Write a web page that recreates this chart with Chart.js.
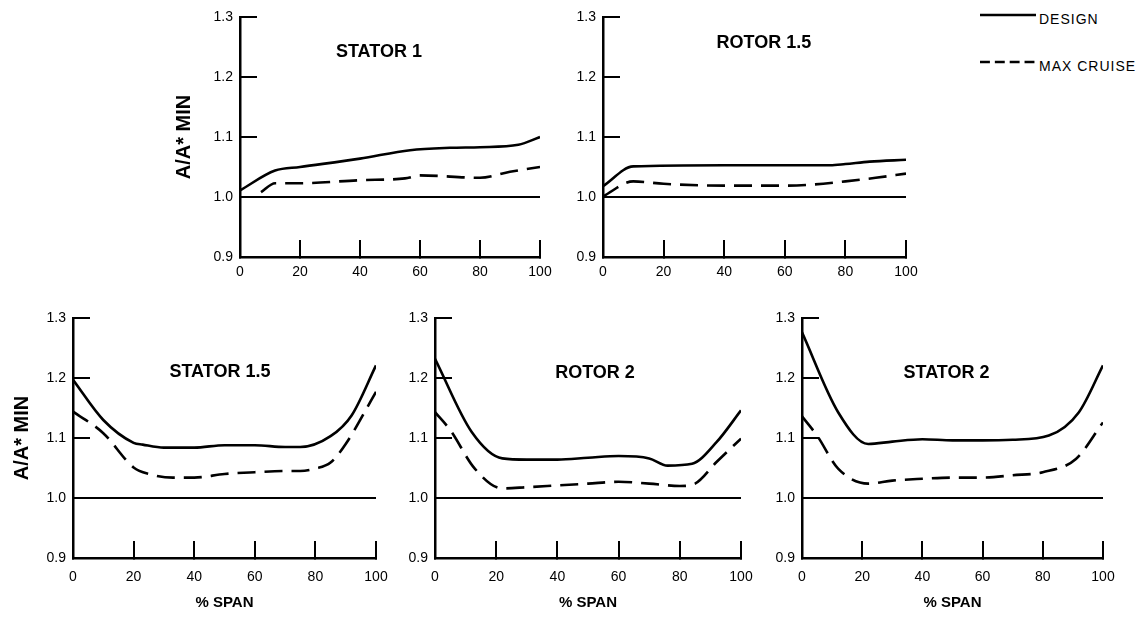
<!DOCTYPE html>
<html>
<head>
<meta charset="utf-8">
<script src="https://cdn.jsdelivr.net/npm/chart.js@4.4.1/dist/chart.umd.min.js"></script>
<style>
html, body { margin: 0; padding: 0; background: #fff; }
#wrap { position: relative; width: 1141px; height: 620px; overflow: hidden; background: #fff; }
#wrap canvas { position: absolute; }
.leg { position: absolute; display: flex; align-items: center; height: 20px;
       font: 14px "Liberation Sans", Arial, Helvetica, sans-serif; letter-spacing: 1px;
       color: #000; white-space: nowrap; }
.leg svg { display: block; margin-right: 3px; }
</style>
</head>
<body>
<div id="wrap">
  <canvas id="cStator1"></canvas>
  <canvas id="cRotor15"></canvas>
  <canvas id="cStator15"></canvas>
  <canvas id="cRotor2"></canvas>
  <canvas id="cStator2"></canvas>
</div>
<script>
// ---------------- DATA ----------------
const seriesNames = ['DESIGN', 'MAX CRUISE'];
const panelTitles = ['STATOR 1', 'ROTOR 1.5', 'STATOR 1.5', 'ROTOR 2', 'STATOR 2'];
const xTickValues = [0, 20, 40, 60, 80, 100];
const yTickValues = [0.9, 1.0, 1.1, 1.2, 1.3];
const referenceSpan = [0, 100];
const referenceRatio = [1.0, 1.0];

// STATOR 1
const stator1DesignSpan = [0, 11.7, 20, 40, 56.7, 70, 80, 92.8, 100];
const stator1Design     = [1.011, 1.044, 1.050, 1.064, 1.078, 1.082, 1.083, 1.087, 1.100];
const stator1CruiseSpan = [7, 11.7, 20, 40, 55, 60, 80, 90, 100];
const stator1Cruise     = [1.008, 1.023, 1.023, 1.028, 1.031, 1.036, 1.032, 1.042, 1.050];

// ROTOR 1.5
const rotor15DesignSpan = [0, 10, 40, 75, 80, 88, 100];
const rotor15Design     = [1.018, 1.051, 1.053, 1.053, 1.055, 1.059, 1.062];
const rotor15CruiseSpan = [0, 10, 20, 40, 60, 70, 80, 90, 100];
const rotor15Cruise     = [1.001, 1.026, 1.022, 1.019, 1.019, 1.021, 1.026, 1.032, 1.039];

// STATOR 1.5
const stator15DesignSpan = [0, 10, 20, 23, 30, 40, 50, 60, 70, 75, 85, 92, 100];
const stator15Design     = [1.197, 1.130, 1.092, 1.089, 1.084, 1.084, 1.088, 1.088, 1.085, 1.085, 1.103, 1.138, 1.221];
const stator15CruiseSpan = [0, 10, 20, 25, 33, 40, 50, 60, 70, 75, 80, 85, 90, 100];
const stator15Cruise     = [1.144, 1.108, 1.051, 1.040, 1.034, 1.034, 1.040, 1.043, 1.045, 1.045, 1.049, 1.059, 1.090, 1.177];

// ROTOR 2
const rotor2DesignSpan = [0, 12, 22, 30, 40, 50, 60, 70, 76, 84, 92, 100];
const rotor2Design     = [1.232, 1.110, 1.066, 1.064, 1.064, 1.067, 1.070, 1.066, 1.054, 1.057, 1.093, 1.146];
const rotor2CruiseSpan = [0, 5, 13, 22, 30, 40, 50, 60, 70, 80, 85, 92, 100];
const rotor2Cruise     = [1.143, 1.113, 1.049, 1.016, 1.018, 1.021, 1.024, 1.027, 1.024, 1.020, 1.024, 1.060, 1.099];

// STATOR 2
const stator2DesignSpan = [0, 12, 22, 30, 40, 50, 60, 70, 82, 92, 100];
const stator2Design     = [1.276, 1.143, 1.090, 1.094, 1.098, 1.096, 1.096, 1.097, 1.104, 1.143, 1.221];
const stator2CruiseSpan = [0, 5, 12, 22, 30, 40, 50, 60, 70, 80, 91, 100];
const stator2Cruise     = [1.136, 1.104, 1.049, 1.024, 1.029, 1.032, 1.034, 1.034, 1.038, 1.043, 1.065, 1.126];

// ---------------- STYLE / LAYOUT ----------------
const FONT = '"Liberation Sans", Arial, Helvetica, sans-serif';
Chart.defaults.font.family = FONT;
Chart.defaults.color = '#000';

const panelTitlePlugin = {
  id: 'panelTitle',
  afterDatasetsDraw(chart, args, opts) {
    if (!opts || !opts.text) return;
    const { ctx, chartArea: a, scales } = chart;
    ctx.save();
    ctx.font = 'bold 18px ' + FONT;
    ctx.fillStyle = '#000';
    ctx.textAlign = 'center';
    ctx.textBaseline = 'middle';
    ctx.fillText(opts.text, a.left + opts.xFrac * (a.right - a.left), scales.y.getPixelForValue(opts.yValue));
    ctx.restore();
  }
};

function lineSet(label, xs, ys, dash, width, inLegend) {
  return {
    label: label,
    data: xs.map((x, i) => ({ x: x, y: ys[i] })),
    borderColor: '#000',
    backgroundColor: '#000',
    borderWidth: width,
    borderDash: dash,
    pointRadius: 0,
    fill: false,
    cubicInterpolationMode: 'monotone',
    showInLegend: inLegend
  };
}

// plot-area target: L,T,R,B (pixels in the page)
function makePanel(cfg) {
  const PAD_TOP = 34, PAD_RIGHT = 42;
  const left = cfg.canvasLeft;
  const top = cfg.T - PAD_TOP;
  const w = cfg.R + PAD_RIGHT - left;
  const h = cfg.B + cfg.xH - top;
  const canvas = document.getElementById(cfg.id);
  canvas.width = w; canvas.height = h;
  canvas.style.left = left + 'px'; canvas.style.top = top + 'px';
  canvas.style.width = w + 'px'; canvas.style.height = h + 'px';
  const gridCommon = { drawOnChartArea: false, drawTicks: true, tickLength: -17, color: '#000', lineWidth: 2 };
  const borderCommon = { display: true, color: '#000', width: 2.5 };
  return new Chart(canvas, {
    type: 'line',
    data: {
      datasets: [
        lineSet(seriesNames[0], cfg.dx, cfg.dy, [], 2.6, true),
        lineSet(seriesNames[1], cfg.cx, cfg.cy, [18, 9], 2.6, true),
        lineSet('A/A* = 1.0', referenceSpan, referenceRatio, [], 2.2, false)
      ]
    },
    options: {
      responsive: false,
      maintainAspectRatio: false,
      animation: false,
      devicePixelRatio: 1,
      layout: { padding: { left: 0, top: PAD_TOP, right: PAD_RIGHT, bottom: 0 } },
      plugins: {
        legend: { display: false },
        tooltip: { enabled: false },
        panelTitle: { text: cfg.title, xFrac: cfg.tx, yValue: cfg.ty }
      },
      scales: {
        x: {
          type: 'linear', min: xTickValues[0], max: xTickValues[xTickValues.length - 1],
          afterBuildTicks: s => { s.ticks = xTickValues.map(v => ({ value: v })); },
          ticks: { padding: cfg.xTickPad, font: { size: 14 }, color: '#000', maxRotation: 0, autoSkip: false },
          grid: gridCommon,
          border: borderCommon,
          title: { display: cfg.xTitle, text: '% SPAN', color: '#000',
                   font: { size: 15, weight: 'bold' }, padding: { top: 0, bottom: 6 } },
          afterFit: s => { s.height = cfg.xH; }
        },
        y: {
          type: 'linear', min: yTickValues[0], max: yTickValues[yTickValues.length - 1],
          afterBuildTicks: s => { s.ticks = yTickValues.map(v => ({ value: v })); },
          ticks: { padding: 24, font: { size: 14 }, color: '#000', callback: v => Number(v).toFixed(1) },
          grid: gridCommon,
          border: borderCommon,
          title: { display: cfg.yTitle, text: 'A/A* MIN', color: '#000',
                   font: { size: 20, weight: 'bold' }, padding: 0 },
          afterFit: s => { s.width = cfg.L - left; }
        }
      }
    },
    plugins: [panelTitlePlugin]
  });
}

const chartStator1 = makePanel({ id: 'cStator1', canvasLeft: 172, L: 240, T: 17, R: 540, B: 257, xH: 36,
  xTickPad: 24, xTitle: false, yTitle: true, title: panelTitles[0], tx: 0.463, ty: 1.242,
  dx: stator1DesignSpan, dy: stator1Design, cx: stator1CruiseSpan, cy: stator1Cruise });

const chartRotor15 = makePanel({ id: 'cRotor15', canvasLeft: 558, L: 603, T: 17, R: 906, B: 257, xH: 36,
  xTickPad: 24, xTitle: false, yTitle: false, title: panelTitles[1], tx: 0.531, ty: 1.257,
  dx: rotor15DesignSpan, dy: rotor15Design, cx: rotor15CruiseSpan, cy: rotor15Cruise });

const chartStator15 = makePanel({ id: 'cStator15', canvasLeft: 10, L: 73, T: 318, R: 376, B: 558, xH: 60,
  xTickPad: 28, xTitle: true, yTitle: true, title: panelTitles[2], tx: 0.485, ty: 1.2105,
  dx: stator15DesignSpan, dy: stator15Design, cx: stator15CruiseSpan, cy: stator15Cruise });

const chartRotor2 = makePanel({ id: 'cRotor2', canvasLeft: 390, L: 435, T: 318, R: 741, B: 558, xH: 60,
  xTickPad: 28, xTitle: true, yTitle: false, title: panelTitles[3], tx: 0.523, ty: 1.209,
  dx: rotor2DesignSpan, dy: rotor2Design, cx: rotor2CruiseSpan, cy: rotor2Cruise });

const chartStator2 = makePanel({ id: 'cStator2', canvasLeft: 757, L: 802, T: 318, R: 1103, B: 558, xH: 60,
  xTickPad: 28, xTitle: true, yTitle: false, title: panelTitles[4], tx: 0.48, ty: 1.209,
  dx: stator2DesignSpan, dy: stator2Design, cx: stator2CruiseSpan, cy: stator2Cruise });

// ---------------- HTML legend built from the chart's own legend items ----------------
(function buildLegend() {
  const wrap = document.getElementById('wrap');
  const items = Chart.defaults.plugins.legend.labels.generateLabels(chartRotor15)
    .filter(it => chartRotor15.data.datasets[it.datasetIndex].showInLegend);
  const lineYs = [15, 62];
  items.forEach((it, i) => {
    const row = document.createElement('div');
    row.className = 'leg';
    row.style.left = '980px';
    row.style.top = (lineYs[i] - 7) + 'px';
    const dash = (it.lineDash || []).map(v => v * 0.55).join(' ');
    row.innerHTML = '<svg width="56" height="20"><line x1="0" y1="7" x2="56" y2="7" stroke="' + it.strokeStyle +
      '" stroke-width="' + it.lineWidth + '"' + (dash ? ' stroke-dasharray="' + dash + '"' : '') + '/></svg>';
    const span = document.createElement('span');
    span.textContent = it.text;
    span.style.position = 'relative';
    span.style.top = '1px';
    row.appendChild(span);
    wrap.appendChild(row);
  });
})();
</script>
</body>
</html>
